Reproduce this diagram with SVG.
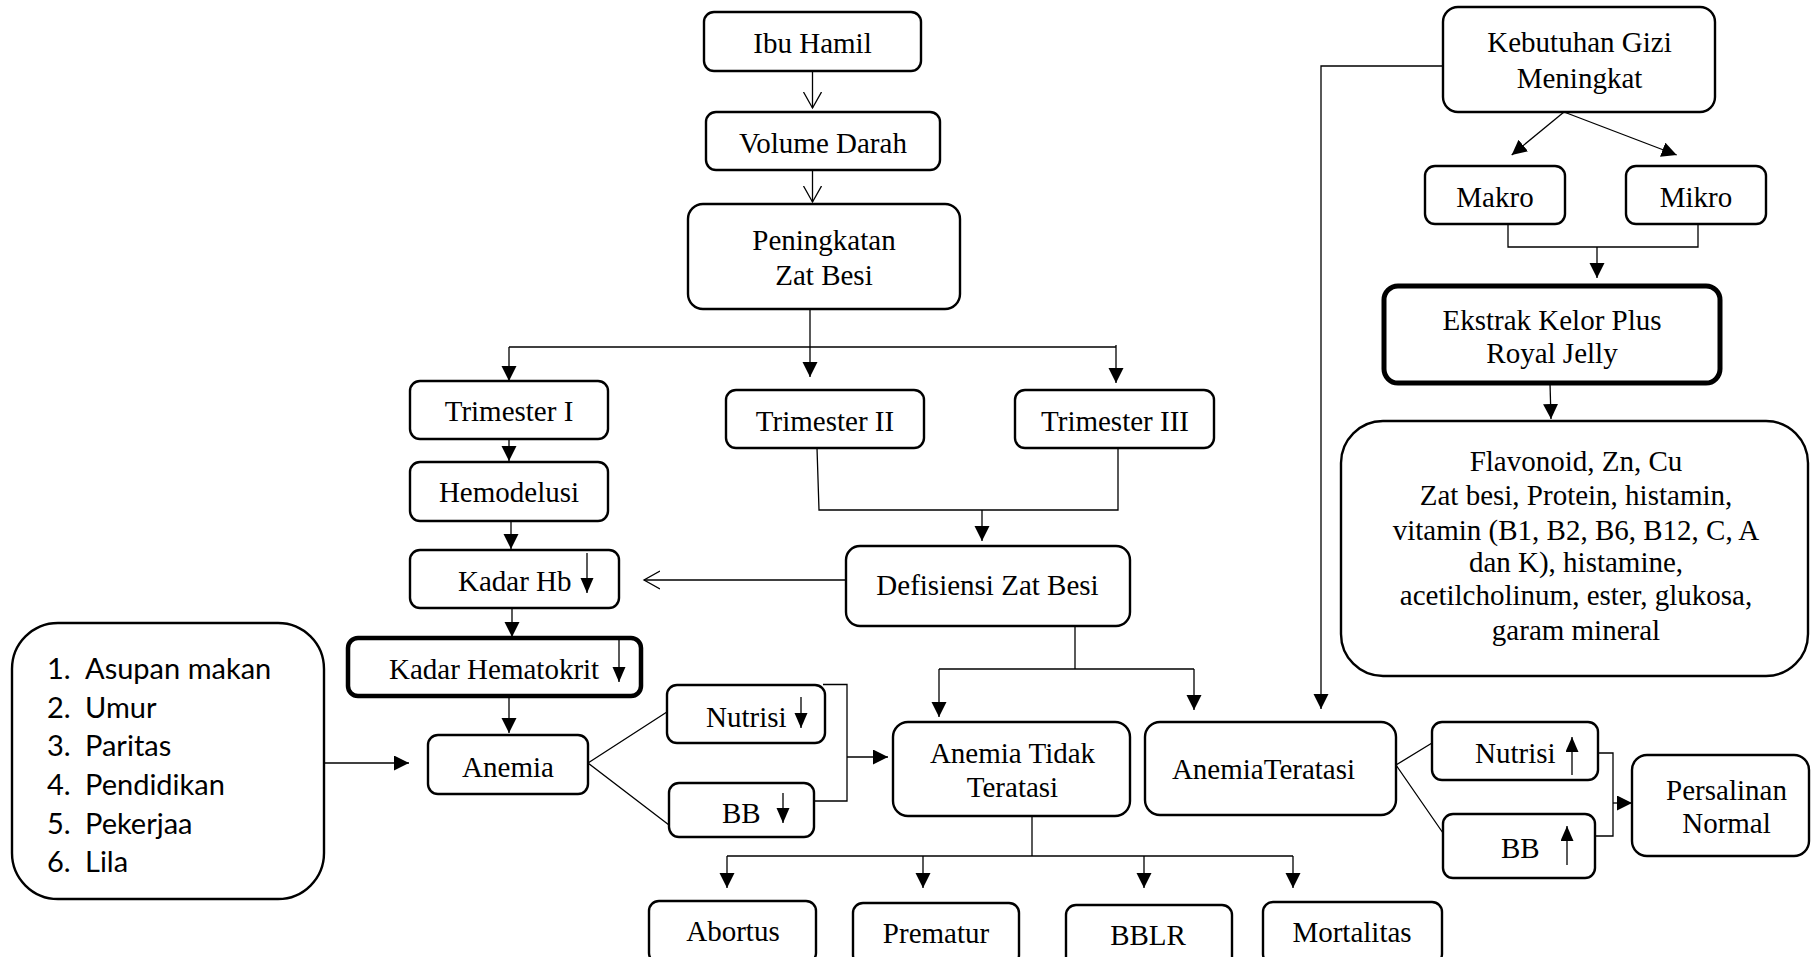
<svg xmlns="http://www.w3.org/2000/svg" width="1811" height="957" viewBox="0 0 1811 957">
<style>
.b{fill:#fff;stroke:#000;stroke-width:2.4}
.bt{fill:#fff;stroke:#000;stroke-width:4.5}
.t{font-family:"Liberation Serif","Times New Roman",serif;font-size:29px;fill:#000}
.c{text-anchor:middle}
.l{font-family:Lato,"Liberation Sans",sans-serif;font-size:29px;fill:#000}
.k{fill:none;stroke:#000;stroke-width:1.3}
</style>
<defs>
<marker id="a" markerWidth="16" markerHeight="16" refX="15" refY="7.5" orient="auto" markerUnits="userSpaceOnUse"><path d="M0,0 L15,7.5 L0,15 z" fill="#000"/></marker>
<marker id="s" markerWidth="16" markerHeight="14" refX="15" refY="6.5" orient="auto" markerUnits="userSpaceOnUse"><path d="M0,0 L15,6.5 L0,13 z" fill="#000"/></marker>
<marker id="v" markerWidth="18" markerHeight="20" refX="16" refY="9.5" orient="auto" markerUnits="userSpaceOnUse"><path d="M0,0.5 L16,9.5 L0,18.5" fill="none" stroke="#000" stroke-width="1.3"/></marker>
</defs>

<g id="connectors" class="k">
<line x1="812.5" y1="71" x2="812.5" y2="108" marker-end="url(#v)"/>
<line x1="812.5" y1="170" x2="812.5" y2="202" marker-end="url(#v)"/>
<line x1="810" y1="309" x2="810" y2="377" marker-end="url(#a)"/>
<line x1="509" y1="347" x2="1116" y2="347"/>
<line x1="509" y1="347" x2="509" y2="381" marker-end="url(#a)"/>
<line x1="1116" y1="345" x2="1116" y2="383" marker-end="url(#a)"/>
<line x1="509" y1="439" x2="509" y2="461" marker-end="url(#a)"/>
<line x1="511" y1="521" x2="511" y2="549" marker-end="url(#a)"/>
<line x1="512" y1="608" x2="512" y2="637" marker-end="url(#a)"/>
<line x1="509" y1="696" x2="509" y2="733" marker-end="url(#a)"/>
<line x1="324" y1="763" x2="409" y2="763" marker-end="url(#a)"/>
<polyline points="670,710 588,763 669,825"/>
<polyline points="823,684.5 847,684.5 847,801 814,801"/>
<line x1="847" y1="757" x2="888" y2="757" marker-end="url(#a)"/>
<polyline points="817,448 819,510 1118,510 1118,448"/>
<line x1="982" y1="510" x2="982" y2="541" marker-end="url(#a)"/>
<line x1="846" y1="580" x2="644" y2="580" marker-end="url(#v)"/>
<line x1="1075" y1="626" x2="1075" y2="669"/>
<line x1="939" y1="669" x2="1194" y2="669"/>
<line x1="939" y1="669" x2="939" y2="717" marker-end="url(#a)"/>
<line x1="1194" y1="669" x2="1194" y2="710" marker-end="url(#a)"/>
<line x1="1032" y1="816" x2="1032" y2="856"/>
<line x1="727" y1="856" x2="1293" y2="856"/>
<line x1="727" y1="856" x2="727" y2="888" marker-end="url(#a)"/>
<line x1="923" y1="856" x2="923" y2="888" marker-end="url(#a)"/>
<line x1="1144" y1="856" x2="1144" y2="888" marker-end="url(#a)"/>
<line x1="1293" y1="856" x2="1293" y2="888" marker-end="url(#a)"/>
<polyline points="1447,66 1321,66 1321,709" marker-end="url(#a)"/>
<line x1="1564" y1="112" x2="1511.7" y2="155" marker-end="url(#a)"/>
<line x1="1564" y1="112" x2="1676.7" y2="155" marker-end="url(#a)"/>
<polyline points="1508,224 1508,247 1698,247 1698,224"/>
<line x1="1597" y1="247" x2="1597" y2="278" marker-end="url(#a)"/>
<line x1="1550" y1="383" x2="1551" y2="419" marker-end="url(#a)"/>
<polyline points="1432,743 1396,765 1443,833"/>
<polyline points="1598,753 1613,753 1613,836 1595,836"/>
<line x1="1613" y1="803" x2="1632" y2="803" marker-end="url(#a)"/>
</g>

<g id="ibu-hamil"><rect class="b" x="704" y="12" width="217" height="59" rx="10"/><text class="t c" x="812.5" y="53">Ibu Hamil</text></g>
<g id="volume-darah"><rect class="b" x="706" y="112" width="234" height="58" rx="10"/><text class="t c" x="823" y="153">Volume Darah</text></g>
<g id="peningkatan"><rect class="b" x="688" y="204" width="272" height="105" rx="15"/><text class="t c" x="824" y="250">Peningkatan</text><text class="t c" x="824" y="285">Zat Besi</text></g>
<g id="trimester-1"><rect class="b" x="410" y="381" width="198" height="58" rx="10"/><text class="t c" x="509" y="421">Trimester I</text></g>
<g id="trimester-2"><rect class="b" x="726" y="390" width="198" height="58" rx="10"/><text class="t c" x="825" y="431">Trimester II</text></g>
<g id="trimester-3"><rect class="b" x="1015" y="390" width="199" height="58" rx="10"/><text class="t c" x="1115" y="431">Trimester III</text></g>
<g id="hemodelusi"><rect class="b" x="410" y="462" width="198" height="59" rx="10"/><text class="t c" x="509" y="502">Hemodelusi</text></g>
<g id="kadar-hb"><rect class="b" x="410" y="550" width="209" height="58" rx="10"/><text class="t" x="458" y="591">Kadar Hb</text><line class="k" x1="587" y1="553" x2="587" y2="593" marker-end="url(#s)"/></g>
<g id="kadar-hematokrit"><rect class="bt" x="348" y="638" width="293" height="58" rx="10"/><text class="t" x="389" y="679">Kadar Hematokrit</text><line class="k" x1="619" y1="640" x2="619" y2="682" marker-end="url(#s)"/></g>
<g id="anemia"><rect class="b" x="428" y="735" width="160" height="59" rx="10"/><text class="t c" x="508" y="777">Anemia</text></g>
<g id="faktor"><rect class="b" x="12" y="623" width="312" height="276" rx="46"/>
<text class="l" y="679"><tspan x="47">1.</tspan><tspan x="85">Asupan makan</tspan></text>
<text class="l" y="718"><tspan x="47">2.</tspan><tspan x="85">Umur</tspan></text>
<text class="l" y="756"><tspan x="47">3.</tspan><tspan x="85">Paritas</tspan></text>
<text class="l" y="795"><tspan x="47">4.</tspan><tspan x="85">Pendidikan</tspan></text>
<text class="l" y="834"><tspan x="47">5.</tspan><tspan x="85">Pekerjaa</tspan></text>
<text class="l" y="872"><tspan x="47">6.</tspan><tspan x="85">Lila</tspan></text></g>
<g id="defisiensi"><rect class="b" x="846" y="546" width="284" height="80" rx="14"/><text class="t c" x="987.5" y="595">Defisiensi Zat Besi</text></g>
<g id="nutrisi-turun"><rect class="b" x="667" y="685" width="158" height="58" rx="10"/><text class="t" x="706" y="727">Nutrisi</text><line class="k" x1="801" y1="697" x2="801" y2="728" marker-end="url(#s)"/></g>
<g id="bb-turun"><rect class="b" x="669" y="783" width="145" height="54" rx="10"/><text class="t" x="722" y="823">BB</text><line class="k" x1="783" y1="793" x2="783" y2="823" marker-end="url(#s)"/></g>
<g id="anemia-tidak-teratasi"><rect class="b" x="893" y="722" width="237" height="94" rx="15"/><text class="t c" x="1012.5" y="763">Anemia Tidak</text><text class="t c" x="1012.5" y="797">Teratasi</text></g>
<g id="anemia-teratasi"><rect class="b" x="1145" y="722" width="251" height="93" rx="15"/><text class="t c" x="1263.5" y="779">AnemiaTeratasi</text></g>
<g id="nutrisi-naik"><rect class="b" x="1432" y="722" width="166" height="58" rx="10"/><text class="t" x="1475" y="763">Nutrisi</text><line class="k" x1="1572" y1="775" x2="1572" y2="737" marker-end="url(#s)"/></g>
<g id="bb-naik"><rect class="b" x="1443" y="814" width="152" height="64" rx="10"/><text class="t" x="1501" y="858">BB</text><line class="k" x1="1567" y1="865" x2="1567" y2="826" marker-end="url(#s)"/></g>
<g id="persalinan-normal"><rect class="b" x="1632" y="755" width="177" height="101" rx="15"/><text class="t c" x="1726.5" y="800">Persalinan</text><text class="t c" x="1726.5" y="833">Normal</text></g>
<g id="abortus"><rect class="b" x="649" y="901" width="167" height="62" rx="10"/><text class="t c" x="733" y="941">Abortus</text></g>
<g id="prematur"><rect class="b" x="853" y="903" width="166" height="62" rx="10"/><text class="t c" x="936" y="943">Prematur</text></g>
<g id="bblr"><rect class="b" x="1066" y="905" width="166" height="62" rx="10"/><text class="t c" x="1148" y="945">BBLR</text></g>
<g id="mortalitas"><rect class="b" x="1263" y="902" width="179" height="62" rx="10"/><text class="t c" x="1352" y="942">Mortalitas</text></g>
<g id="kebutuhan-gizi"><rect class="b" x="1443" y="7" width="272" height="105" rx="15"/><text class="t c" x="1579.5" y="52">Kebutuhan Gizi</text><text class="t c" x="1579.5" y="88">Meningkat</text></g>
<g id="makro"><rect class="b" x="1425" y="166" width="140" height="58" rx="10"/><text class="t c" x="1495" y="207">Makro</text></g>
<g id="mikro"><rect class="b" x="1626" y="166" width="140" height="58" rx="10"/><text class="t c" x="1696" y="207">Mikro</text></g>
<g id="ekstrak-kelor"><rect class="bt" x="1384" y="286" width="336" height="97" rx="14" style="stroke-width:5"/><text class="t c" x="1552" y="330">Ekstrak Kelor Plus</text><text class="t c" x="1552" y="363">Royal Jelly</text></g>
<g id="kandungan"><rect class="b" x="1341" y="421" width="467" height="255" rx="42"/>
<text class="t c" x="1576" y="471">Flavonoid, Zn, Cu</text>
<text class="t c" x="1576" y="505">Zat besi, Protein, histamin,</text>
<text class="t c" x="1576" y="540">vitamin (B1, B2, B6, B12, C, A</text>
<text class="t c" x="1576" y="572">dan K), histamine,</text>
<text class="t c" x="1576" y="605">acetilcholinum, ester, glukosa,</text>
<text class="t c" x="1576" y="640">garam mineral</text></g>
</svg>
